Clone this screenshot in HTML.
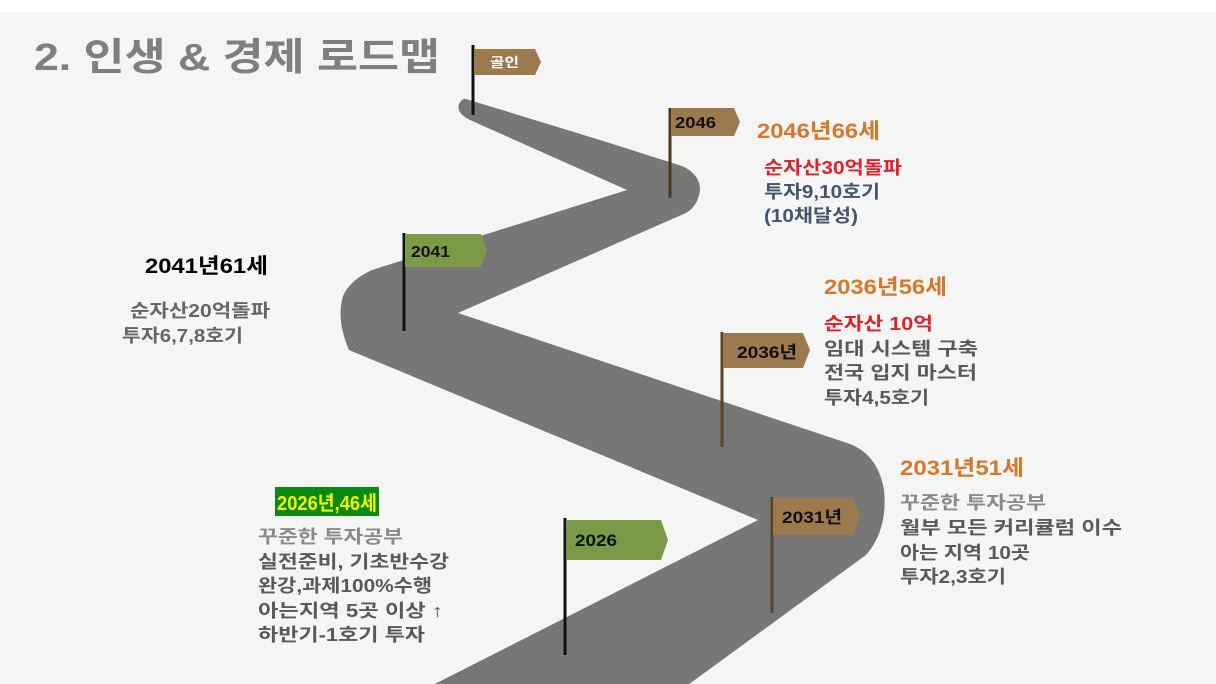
<!DOCTYPE html>
<html><head><meta charset="utf-8"><style>
html,body{margin:0;padding:0;width:1216px;height:684px;overflow:hidden;background:#fff}
svg{display:block}
text{font-family:"Liberation Sans","Noto Sans CJK KR",sans-serif;font-weight:bold}
</style></head><body>
<svg width="1216" height="684" viewBox="0 0 1216 684" xmlns="http://www.w3.org/2000/svg">
<rect x="0" y="12" width="1216" height="672" fill="#f5f5f5"/>
<text x="34" y="70" font-size="38" fill="#7f7f7f" textLength="406" lengthAdjust="spacingAndGlyphs">2. 인생 &amp; 경제 로드맵</text>
<path fill="#777777" d="M466,99 L600,140 L682,166 Q700,174 700,190 Q698,206 686,213 L458,313 L850,444 Q878,455 884,490 Q888,530 866,555 L681,690 L423,690 L758,520 L349,350 Q336,320 343,296 Q350,280 372,270 L627,190 L470,120 Q456,113 459,104 Q462,98 466,99 Z"/>
<g>
<line x1="473" y1="45" x2="473" y2="115" stroke="#111" stroke-width="3"/>
<path d="M474,49 H535 L541,62 L535,75 H474 Z" fill="#9c7a4d"/>
<text x="490" y="67" font-size="13" fill="#fff" textLength="29" lengthAdjust="spacingAndGlyphs">골인</text>

<line x1="670" y1="108" x2="670" y2="198" stroke="#4a3a22" stroke-width="3"/>
<path d="M671,108 H734 L740,122 L734,136 H671 Z" fill="#9c7a4d"/>
<text x="675" y="128" font-size="16" fill="#111" font-weight="normal" textLength="41" lengthAdjust="spacingAndGlyphs">2046</text>

<line x1="404" y1="233" x2="404" y2="331" stroke="#111" stroke-width="3"/>
<path d="M405,234 H481 L487,250 L481,267 H405 Z" fill="#7a9a48"/>
<text x="411" y="257" font-size="16" fill="#111" textLength="39" lengthAdjust="spacingAndGlyphs">2041</text>

<line x1="722" y1="332" x2="722" y2="447" stroke="#5a4528" stroke-width="3"/>
<path d="M723,333 H803 L810,350 L803,368 H723 Z" fill="#9c7a4d"/>
<text x="737" y="358" font-size="17" fill="#111" font-weight="normal" textLength="60" lengthAdjust="spacingAndGlyphs">2036년</text>

<line x1="772" y1="497" x2="772" y2="613" stroke="#5a4528" stroke-width="3"/>
<path d="M773,498 H853 L860,516 L853,535 H773 Z" fill="#9c7a4d"/>
<text x="782" y="523" font-size="17" fill="#111" font-weight="normal" textLength="60" lengthAdjust="spacingAndGlyphs">2031년</text>

<line x1="565" y1="518" x2="565" y2="655" stroke="#111" stroke-width="3"/>
<path d="M566,520 H661 L668,540 L661,560 H566 Z" fill="#7a9a48"/>
<text x="575" y="546" font-size="17" fill="#111" textLength="42" lengthAdjust="spacingAndGlyphs">2026</text>
</g>
<text x="757" y="138" font-size="21" fill="#d4792a" textLength="123" lengthAdjust="spacingAndGlyphs">2046년66세</text>
<text x="764" y="174" font-size="18" fill="#e0202a" textLength="138" lengthAdjust="spacingAndGlyphs">순자산30억돌파</text>
<text x="764" y="198" font-size="18" fill="#44546a" textLength="116" lengthAdjust="spacingAndGlyphs">투자9,10호기</text>
<text x="764" y="222" font-size="18" fill="#44546a" textLength="94" lengthAdjust="spacingAndGlyphs">(10채달성)</text>

<text x="145" y="273" font-size="21" fill="#000" textLength="123" lengthAdjust="spacingAndGlyphs">2041년61세</text>
<text x="130" y="317" font-size="18" fill="#666" textLength="140" lengthAdjust="spacingAndGlyphs">순자산20억돌파</text>
<text x="122" y="342" font-size="18" fill="#666" textLength="121" lengthAdjust="spacingAndGlyphs">투자6,7,8호기</text>

<text x="824" y="294" font-size="21" fill="#d4792a" textLength="123" lengthAdjust="spacingAndGlyphs">2036년56세</text>
<text x="824" y="330" font-size="18" fill="#e0202a" textLength="109" lengthAdjust="spacingAndGlyphs">순자산 10억</text>
<text x="824" y="355" font-size="18" fill="#595959" textLength="154" lengthAdjust="spacingAndGlyphs">임대 시스템 구축</text>
<text x="824" y="379" font-size="18" fill="#595959" textLength="153" lengthAdjust="spacingAndGlyphs">전국 입지 마스터</text>
<text x="824" y="404" font-size="18" fill="#595959" textLength="105" lengthAdjust="spacingAndGlyphs">투자4,5호기</text>

<text x="900" y="475" font-size="21" fill="#d4792a" textLength="124" lengthAdjust="spacingAndGlyphs">2031년51세</text>
<text x="900" y="509" font-size="18" fill="#8a8a8a" textLength="146" lengthAdjust="spacingAndGlyphs">꾸준한 투자공부</text>
<text x="900" y="534" font-size="18" fill="#595959" textLength="222" lengthAdjust="spacingAndGlyphs">월부 모든 커리큘럼 이수</text>
<text x="900" y="559" font-size="18" fill="#595959" textLength="130" lengthAdjust="spacingAndGlyphs">아는 지역 10곳</text>
<text x="900" y="583" font-size="18" fill="#595959" textLength="106" lengthAdjust="spacingAndGlyphs">투자2,3호기</text>

<rect x="275" y="487" width="104" height="29" fill="#0a8a14"/>
<text x="277" y="510" font-size="20" fill="#f2f200" textLength="100" lengthAdjust="spacingAndGlyphs">2026년,46세</text>
<text x="258" y="543" font-size="18" fill="#8a8a8a" textLength="145" lengthAdjust="spacingAndGlyphs">꾸준한 투자공부</text>
<text x="258" y="568" font-size="18" fill="#595959" textLength="191" lengthAdjust="spacingAndGlyphs">실전준비, 기초반수강</text>
<text x="258" y="592" font-size="18" fill="#595959" textLength="174" lengthAdjust="spacingAndGlyphs">완강,과제100%수행</text>
<text x="258" y="617" font-size="18" fill="#595959" textLength="185" lengthAdjust="spacingAndGlyphs">아는지역 5곳 이상 ↑</text>
<text x="258" y="641" font-size="18" fill="#595959" textLength="167" lengthAdjust="spacingAndGlyphs">하반기-1호기 투자</text>
</svg>
</body></html>
